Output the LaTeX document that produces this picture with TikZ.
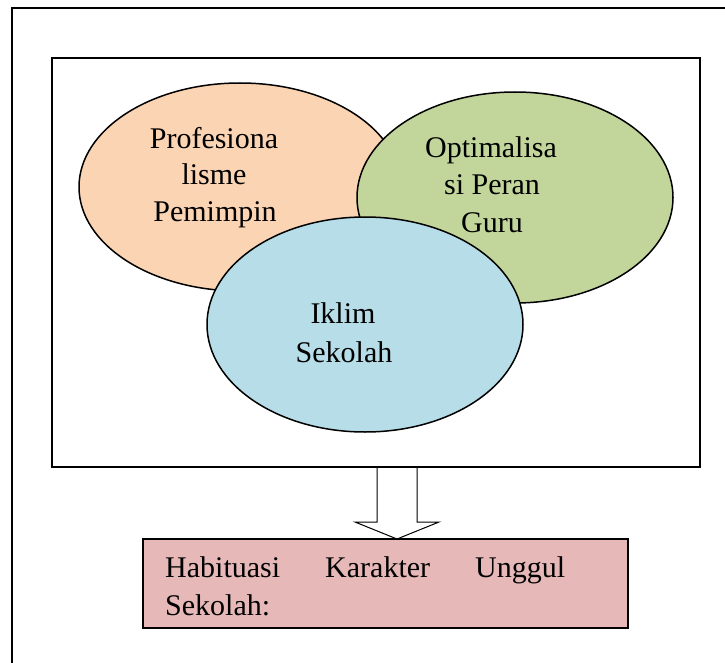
\documentclass[tikz,border=0pt]{standalone}
\usepackage{fontspec}
\setmainfont{Liberation Serif}
\usetikzlibrary{shapes.geometric,calc}
\definecolor{peach}{HTML}{FBD4B4}
\definecolor{olivegreen}{HTML}{C2D69B}
\definecolor{aqua}{HTML}{B6DDE8}
\definecolor{rosebox}{HTML}{E6B9B8}
\begin{document}
\begin{tikzpicture}[x=1pt,y=-1pt,
  blob/.style={ellipse, draw=black, line width=1.5pt, inner sep=0pt},
  lbl/.style={anchor=base, inner sep=0pt, font=\fontsize{30}{36}\selectfont},
  panel/.style={draw=black, line width=2pt, inner sep=0pt},
  blockarrow/.style={draw=black, line width=1pt, fill=white, line join=miter}]
\useasboundingbox (0,0) rectangle (725,663);
% outer frame (only left and top edges visible)
\draw[line width=2pt] (12,663) -- (12,8) -- (725,8);
% inner frame
\node[panel, minimum width=648pt, minimum height=409pt] (frame) at (376,262.5) {};
% ellipses
\node[blob, fill=peach, minimum width=322pt, minimum height=208pt] (prof) at (240,187) {};
\node[blob, fill=olivegreen, minimum width=316pt, minimum height=211pt] (guru) at (515,197.5) {};
\node[blob, fill=aqua, minimum width=316pt, minimum height=215pt] (iklim) at (365,324.5) {};
% texts
\node[lbl] (p1) at (214,149) {Profesiona};
\node[lbl] (p2) at (214,185) {lisme};
\node[lbl] (p3) at (215,222) {Pemimpin};
\node[lbl] (g1) at (491,158) {Optimalisa};
\node[lbl] (g2) at (492,195) {si Peran};
\node[lbl] (g3) at (492,233) {Guru};
\node[lbl] (i1) at (343,323) {Iklim};
\node[lbl] (i2) at (344,362) {Sekolah};
% block arrow
\coordinate (atop) at ($(frame.south)+(21,0)$);
\coordinate (tip) at (397,539);
\draw[blockarrow] ($(atop)+(-20,0)$) -- ($(tip)+(-20,-17)$) -- ($(tip)+(-42,-17)$) -- (tip)
  -- ($(tip)+(42,-17)$) -- ($(tip)+(20,-17)$) -- ($(atop)+(20,0)$);
% goal box
\node[panel, fill=rosebox, minimum width=485pt, minimum height=89pt] (goal) at (385.5,583.5) {};
\node[lbl, anchor=base west] (h1) at (165,577) {\makebox[400pt][s]{Habituasi Karakter Unggul}};
\node[lbl, anchor=base west] (h2) at (165,615) {Sekolah:};
\end{tikzpicture}
\end{document}
